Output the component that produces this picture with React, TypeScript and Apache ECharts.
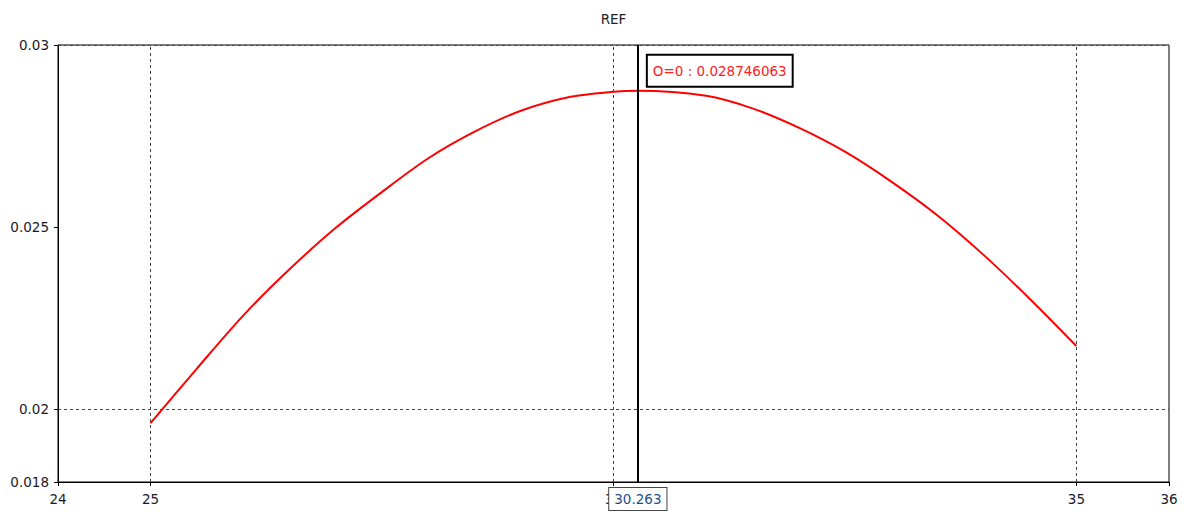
import React, { useEffect, useRef } from "react";
import * as echarts from "echarts";

const chartTitle = "REF";
const xValues = [25, 25.5, 26, 26.5, 27, 27.5, 28, 28.5, 29, 29.5, 30, 30.263, 31, 31.5, 32, 32.5, 33, 33.5, 34, 34.5, 35];
const yValues = [
  0.019617, 0.021115, 0.02257, 0.02384, 0.02498, 0.025966, 0.02689, 0.02762, 0.028195, 0.02856, 0.028716,
  0.028746063, 0.028606, 0.02826, 0.02773, 0.02707, 0.02625, 0.02532, 0.02423, 0.02302, 0.021733,
];
const xTicks = [24, 25, 30, 35, 36];
const yTicks = [0.018, 0.02, 0.025, 0.03];
const xGridLines = [25, 30, 35];
const yGridLines = [0.02, 0.025];
const cursorX = 30.263;
const cursorY = 0.028746063;
const cursorLabel = "O=0 : 0.028746063";

const FONT = "DejaVu Sans";

export default function App() {
  const ref = useRef<HTMLDivElement>(null);
  useEffect(() => {
    document.body.style.margin = "0";
    const chart = echarts.init(ref.current!, null, { renderer: "svg" });
    const gridDash = { color: "#444", width: 1, type: [3, 3] as any };
    chart.setOption({
      animation: false,
      backgroundColor: "#fff",
      textStyle: { fontFamily: FONT },
      graphic: [
        {
          type: "text",
          x: 613.5,
          y: 18.5,
          style: {
            text: chartTitle,
            fill: "#222",
            font: `13.5px "${FONT}"`,
            textAlign: "center",
            textVerticalAlign: "middle",
          },
        },
      ],
      grid: {
        left: 58,
        right: 25,
        top: 45,
        bottom: 30,
        show: true,
        borderColor: "#000",
        borderWidth: 1,
        backgroundColor: "transparent",
      },
      xAxis: {
        type: "value",
        min: 24,
        max: 36,
        axisLine: { show: true, lineStyle: { color: "#000", width: 1 } },
        axisTick: { show: true, length: 4, lineStyle: { color: "#000" }, customValues: xTicks },
        axisLabel: { customValues: xTicks, color: "#1a1a2a", fontSize: 13.5, fontFamily: FONT, margin: 10 },
        splitLine: { show: false },
        axisPointer: {
          show: true,
          status: "show",
          value: cursorX,
          snap: false,
          type: "line",
          lineStyle: { color: "#000", width: 2, type: "solid" },
          label: {
            show: true,
            formatter: () => String(cursorX),
            backgroundColor: "#fff",
            borderColor: "#444",
            borderWidth: 1,
            borderRadius: 0,
            color: "#1f4e8c",
            fontSize: 13.5,
            fontFamily: FONT,
            padding: [4, 5, 4, 5],
            margin: 6,
            shadowBlur: 0,
          },
          handle: { show: false },
        },
      },
      yAxis: {
        type: "value",
        min: 0.018,
        max: 0.03,
        axisLine: { show: true, lineStyle: { color: "#000", width: 1 } },
        axisTick: { show: true, length: 4, lineStyle: { color: "#000" }, customValues: yTicks },
        axisLabel: { customValues: yTicks, color: "#1a1a2a", fontSize: 13.5, fontFamily: FONT, margin: 9 },
        splitLine: { show: false },
      },
      series: [
        {
          type: "line",
          data: xValues.map((x, i) => [x, yValues[i]]),
          smooth: 0.3,
          showSymbol: false,
          lineStyle: { color: "#ff0000", width: 2 },
          itemStyle: { color: "#ff0000" },
          markLine: {
            silent: true,
            symbol: ["none", "none"],
            label: { show: false },
            lineStyle: gridDash,
            data: [
              ...xGridLines.map((v) => ({ xAxis: v })),
              ...yGridLines.map((v) => ({ yAxis: v })),
            ],
          },
          markPoint: {
            silent: true,
            symbol: "circle",
            symbolSize: 0,
            itemStyle: { color: "transparent" },
            data: [{ coord: [cursorX, cursorY] }],
            label: {
              show: true,
              position: [10, -35],
              formatter: cursorLabel,
              color: "#ff2020",
              fontSize: 13.5,
              fontFamily: FONT,
              backgroundColor: "#fff",
              borderColor: "#000",
              borderWidth: 2,
              padding: [8, 5, 8, 5],
              align: "left",
              verticalAlign: "top",
            },
          },
        },
      ],
    });
    return () => chart.dispose();
  }, []);
  return <div ref={ref} style={{ width: 1194, height: 512 }} />;
}
